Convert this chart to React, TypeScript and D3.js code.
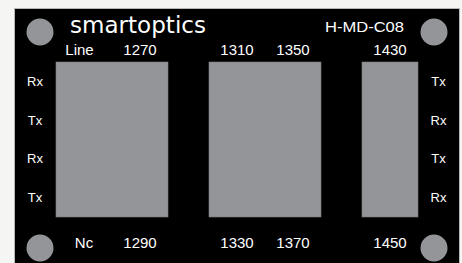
import React from "react";
import * as d3 from "d3";

// front panel of the H-MD-C08 module
const topLabels = ["Line", "1270", "1310", "1350", "1430"];
const bottomLabels = ["Nc", "1290", "1330", "1370", "1450"];
const blocks = [
  { name: "A", cols: [0, 1] },
  { name: "B", cols: [2, 3] },
  { name: "C", cols: [4] },
];
const leftPorts = ["Rx", "Tx", "Rx", "Tx"];
const rightPorts = ["Tx", "Rx", "Tx", "Rx"];
const brand = "smartoptics";
const model = "H-MD-C08";

const W = 462;
const H = 263;
const GAP = 41 / 56; // gap between blocks, in column units

const font = "'Liberation Sans', Arial, sans-serif";

export default function App() {
  // column index -> unit offset (blocks separated by gaps)
  const colStart: number[] = [];
  let u = 0;
  blocks.forEach((b, bi) => {
    if (bi > 0) u += GAP;
    b.cols.forEach((c) => {
      colStart[c] = u;
      u += 1;
    });
  });
  const x = d3.scaleLinear().domain([0, u]).range([56, 418]);
  const y = d3.scaleBand<number>().domain(d3.range(leftPorts.length)).range([62, 217]);
  const colMid = (c: number) => x(colStart[c] + 0.5);

  const screws = [
    [40, 32],
    [434, 32],
    [40, 248],
    [434, 248],
  ];

  return (
    <svg width={W} height={H} style={{ position: "absolute", left: 0, top: 0, background: "#f5f5f3" }}>
      <rect x={14.5} y={8.5} width={445} height={270} fill="#000" stroke="#b8b8b8" strokeWidth={1} />
      {screws.map(([cx, cy], i) => (
        <circle key={i} cx={cx} cy={cy} r={13.5} fill="#939598" />
      ))}
      {blocks.map((b) => {
        const c0 = b.cols[0];
        const c1 = b.cols[b.cols.length - 1];
        const x0 = x(colStart[c0]);
        const x1 = x(colStart[c1] + 1);
        return (
          <rect
            key={b.name}
            x={x0}
            y={y.range()[0]}
            width={x1 - x0}
            height={y.range()[1] - y.range()[0]}
            fill="#939598"
            stroke="#7d7e80"
            strokeWidth={0.6}
          />
        );
      })}
      <text
        x={70}
        y={33}
        fill="#fff"
        fontFamily="'DejaVu Sans', sans-serif"
        fontSize={23}
        textLength={136}
        lengthAdjust="spacingAndGlyphs"
      >
        {brand}
      </text>
      <text x={325} y={32} fill="#fff" fontFamily={font} fontSize={15} textLength={79} lengthAdjust="spacingAndGlyphs">
        {model}
      </text>
      {topLabels.map((t, i) => (
        <text
          key={"t" + i}
          x={colMid(i) - (i === 0 ? 4.5 : 0)}
          y={55}
          fill="#fff"
          fontFamily={font}
          fontSize={15}
          textAnchor="middle"
        >
          {t}
        </text>
      ))}
      {bottomLabels.map((t, i) => (
        <text key={"b" + i} x={colMid(i)} y={248} fill="#fff" fontFamily={font} fontSize={15} textAnchor="middle">
          {t}
        </text>
      ))}
      {leftPorts.map((t, i) => (
        <text
          key={"l" + i}
          x={35}
          y={(y(i) as number) + y.bandwidth() / 2 + 4.6}
          fill="#fff"
          fontFamily={font}
          fontSize={13}
          textAnchor="middle"
        >
          {t}
        </text>
      ))}
      {rightPorts.map((t, i) => (
        <text
          key={"r" + i}
          x={438.5}
          y={(y(i) as number) + y.bandwidth() / 2 + 4.6}
          fill="#fff"
          fontFamily={font}
          fontSize={13}
          textAnchor="middle"
        >
          {t}
        </text>
      ))}
    </svg>
  );
}
